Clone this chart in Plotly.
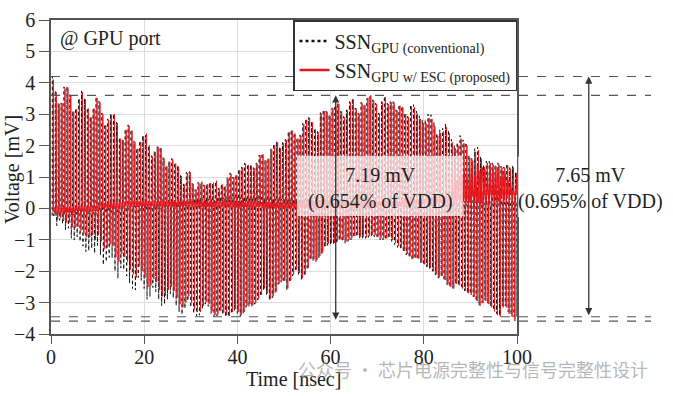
import numpy as np
import plotly.graph_objects as go

# ---------------- data ----------------
PERIOD = 0.625   # ns between successive spikes
T0 = 0.3
ESC_SHIFT = 0.2  # the proposed trace spikes slightly later than the conventional one

conv_up = [
    4.20, 3.75, 3.36, 3.36, 3.87, 3.88, 3.62, 3.10, 3.19, 3.50,
    3.74, 3.50, 3.20, 2.92, 3.20, 3.55, 3.41, 3.04, 2.68, 2.85,
    3.01, 3.01, 2.75, 2.25, 2.19, 2.53, 2.66, 2.50, 2.15, 1.92,
    2.15, 2.32, 2.33, 2.00, 1.68, 1.83, 1.98, 1.95, 1.62, 1.36,
    1.50, 1.59, 1.45, 1.36, 1.05, 0.78, 1.15, 1.18, 0.80, 0.60,
    0.83, 0.80, 0.75, 0.78, 0.82, 0.80, 0.85, 0.65, 0.78, 0.72,
    0.98, 1.13, 1.00, 1.08, 1.25, 1.32, 1.44, 1.40, 1.39, 1.30,
    1.45, 1.70, 1.75, 1.55, 1.60, 1.90, 2.05, 2.13, 1.95, 2.10,
    2.20, 2.45, 2.50, 2.40, 2.25, 2.34, 2.71, 2.85, 2.90, 2.77,
    2.55, 2.45, 3.05, 3.14, 3.10, 2.98, 3.20, 3.28, 3.36, 3.10,
    2.93, 3.14, 3.40, 3.50, 3.20, 3.04, 3.38, 3.30, 3.50, 3.57,
    3.46, 3.35, 3.04, 3.40, 3.57, 3.35, 3.40, 3.40, 3.14, 3.30,
    3.25, 3.04, 2.93, 3.30, 3.30, 3.10, 2.95, 2.82, 2.82, 3.00,
    2.98, 2.75, 2.40, 2.50, 2.55, 2.70, 2.50, 2.20, 2.00, 2.10,
    2.32, 2.18, 2.10, 1.70, 1.60, 1.90, 1.95, 1.65, 1.38, 1.50,
    1.50, 1.45, 1.38, 1.45, 1.35, 1.32, 1.42, 1.30, 1.35, 1.15,
]

conv_low = [
    -0.20, -0.55, -0.38, -0.50, -0.68, -0.63, -0.95, -1.00, -0.90, -1.05,
    -1.20, -1.38, -1.35, -1.27, -1.43, -1.18, -1.48, -1.80, -1.70, -1.56,
    -1.58, -2.00, -2.23, -1.90, -1.95, -2.15, -2.38, -2.55, -2.60, -2.20,
    -2.30, -2.55, -2.90, -2.81, -2.52, -2.65, -2.90, -3.10, -3.05, -2.90,
    -2.72, -2.85, -3.10, -3.30, -3.38, -3.19, -2.95, -3.15, -3.35, -3.42,
    -3.40, -3.20, -3.05, -3.12, -3.35, -3.45, -3.42, -3.30, -3.38, -3.45,
    -3.45, -3.35, -3.25, -3.35, -3.45, -3.35, -3.15, -3.13, -3.13, -3.05,
    -2.92, -2.80, -2.60, -2.75, -2.92, -2.85, -2.70, -2.42, -2.35, -2.35,
    -2.60, -2.35, -2.15, -2.00, -2.10, -2.28, -2.15, -1.95, -1.64, -1.68,
    -1.70, -1.58, -1.45, -1.24, -1.18, -1.16, -1.15, -1.12, -1.02, -1.05,
    -1.11, -1.05, -1.00, -0.92, -0.90, -0.95, -0.95, -0.95, -0.92, -0.90,
    -0.90, -0.95, -1.00, -1.00, -1.00, -0.95, -1.05, -1.15, -1.24, -1.30,
    -1.38, -1.48, -1.56, -1.64, -1.60, -1.62, -1.74, -1.80, -1.86, -1.92,
    -2.00, -2.12, -2.23, -2.17, -2.30, -2.44, -2.50, -2.55, -2.40, -2.45,
    -2.55, -2.62, -2.70, -2.72, -2.81, -2.95, -3.08, -3.00, -2.92, -3.03,
    -3.12, -3.24, -3.35, -3.40, -3.10, -3.10, -3.29, -3.38, -3.45, -3.45,
]

esc_up = [
    4.10, 3.70, 3.33, 3.35, 3.82, 3.85, 3.60, 3.08, 3.15, 3.48,
    3.70, 3.48, 3.18, 2.90, 3.18, 3.52, 3.38, 3.00, 2.65, 2.82,
    2.98, 3.00, 2.72, 2.22, 2.17, 2.50, 2.63, 2.48, 2.12, 1.90,
    2.12, 2.30, 2.38, 2.00, 1.66, 1.80, 1.95, 1.92, 1.60, 1.34,
    1.48, 1.56, 1.43, 1.33, 1.03, 0.76, 1.12, 1.15, 0.78, 0.60,
    0.80, 0.85, 0.73, 0.76, 0.80, 0.82, 0.88, 0.63, 0.76, 0.70,
    0.95, 1.10, 0.98, 1.05, 1.22, 1.30, 1.42, 1.38, 1.36, 1.28,
    1.42, 1.68, 1.72, 1.52, 1.58, 1.88, 2.02, 2.10, 1.92, 2.08,
    2.18, 2.42, 2.48, 2.38, 2.22, 2.32, 2.68, 2.82, 2.88, 2.74,
    2.52, 2.42, 3.02, 3.10, 3.08, 2.95, 3.18, 3.25, 3.33, 3.08,
    2.90, 3.12, 3.38, 3.47, 3.18, 3.02, 3.35, 3.28, 3.52, 3.60,
    3.44, 3.32, 3.02, 3.38, 3.55, 3.32, 3.38, 3.37, 3.12, 3.27,
    3.22, 3.00, 2.90, 3.25, 3.22, 3.02, 2.85, 2.72, 2.70, 2.88,
    2.85, 2.62, 2.30, 2.40, 2.45, 2.58, 2.40, 2.10, 1.92, 2.00,
    2.22, 2.08, 2.00, 1.62, 1.52, 1.80, 1.86, 1.58, 1.32, 1.45,
    1.44, 1.40, 1.33, 1.40, 1.30, 1.28, 1.38, 1.26, 1.30, 1.12,
]

esc_low = [
    -0.15, -0.35, -0.30, -0.40, -0.45, -0.45, -0.60, -0.62, -0.58, -0.70,
    -0.80, -0.90, -0.92, -0.85, -1.00, -0.85, -1.05, -1.30, -1.25, -1.15,
    -1.20, -1.55, -1.70, -1.45, -1.55, -1.70, -1.95, -2.10, -2.20, -1.85,
    -2.00, -2.20, -2.50, -2.45, -2.25, -2.35, -2.60, -2.80, -2.78, -2.60,
    -2.50, -2.62, -2.85, -3.05, -3.15, -3.00, -2.80, -3.00, -3.22, -3.30,
    -3.30, -3.10, -2.98, -3.05, -3.28, -3.40, -3.38, -3.25, -3.32, -3.40,
    -3.42, -3.30, -3.20, -3.30, -3.40, -3.30, -3.10, -3.05, -3.08, -3.00,
    -2.88, -2.75, -2.55, -2.70, -2.88, -2.80, -2.65, -2.40, -2.30, -2.30,
    -2.55, -2.30, -2.10, -1.95, -2.05, -2.22, -2.10, -1.90, -1.60, -1.62,
    -1.65, -1.52, -1.40, -1.20, -1.12, -1.10, -1.10, -1.05, -0.98, -1.00,
    -1.05, -1.00, -0.95, -0.88, -0.85, -0.90, -0.90, -0.92, -0.88, -0.85,
    -0.85, -0.90, -0.95, -0.95, -0.95, -0.90, -1.00, -1.10, -1.20, -1.25,
    -1.35, -1.45, -1.52, -1.60, -1.58, -1.60, -1.72, -1.78, -1.85, -1.90,
    -2.00, -2.10, -2.20, -2.15, -2.28, -2.42, -2.50, -2.55, -2.40, -2.45,
    -2.55, -2.62, -2.70, -2.75, -2.82, -2.95, -3.10, -3.02, -2.95, -3.05,
    -3.15, -3.28, -3.40, -3.45, -3.15, -3.15, -3.35, -3.45, -3.59, -3.50,
]

# baseline level between spikes, one value per 5 ns block
BASE_BLOCK = 5.0
conv_base = [-0.15, -0.12, -0.05, 0.00, 0.05, 0.12, 0.22, 0.27, 0.27, 0.22,
             0.20, 0.18, 0.18, 0.15, 0.15, 0.12, 0.12, 0.15, 0.15, 0.15]
esc_base = [-0.05, 0.00, 0.10, 0.15, 0.15, 0.15, 0.12, 0.12, 0.12, 0.10,
            0.10, 0.10, 0.10, 0.10, 0.15, 0.20, 0.25, 0.35, 0.50, 0.50]

# high-frequency ringing of the proposed trace near the end of the window
RING_T0 = 86.0
RING_PERIOD = 0.55
esc_ring_hi = [0.70, 0.80, 0.90, 1.00, 1.10, 1.20, 1.00, 1.25, 1.30, 1.10, 1.35, 1.20,
               1.30, 1.25, 1.10, 1.30, 1.20, 1.15, 1.30, 1.00, 1.20, 1.10, 0.90, 0.80]
esc_ring_lo = [0.30, 0.25, 0.30, 0.20, 0.25, 0.15, 0.30, 0.20, 0.10, 0.25, 0.20, 0.15,
               0.25, 0.20, 0.15, 0.30, 0.20, 0.25, 0.20, 0.30, 0.25, 0.30, 0.35, 0.40]

# reference levels (max / min of each trace)
conv_max, conv_min = 4.20, -3.45
esc_max, esc_min = 3.60, -3.59

x_ticks = [0, 20, 40, 60, 80, 100]
y_ticks = [-4, -3, -2, -1, 0, 1, 2, 3, 4, 5, 6]

label_conv = "SSN<sub>GPU (conventional)</sub>"
label_esc = "SSN<sub>GPU w/ ESC (proposed)</sub>"
text_esc = "7.19 mV<br>(0.654% of VDD)"
text_conv = "7.65 mV<br>(0.695% of VDD)"
port_text = "@ GPU port"
watermark = "公众号 · 芯片电源完整性与信号完整性设计"


def spikes(up, low, base, t0, period, w=0.06, d=0.08):
    """Narrow up-spike and down-spike per cycle, returning to a wobbling baseline."""
    xs, ys = [], []
    for k, (u, l) in enumerate(zip(up, low)):
        t = t0 + k * period
        b = base[min(int(t // BASE_BLOCK), len(base) - 1)]
        h = period / 2
        xs += [t - w, t, t + w, t + h - w, t + h, t + h + w]
        ys += [b - d, u, b + d, b - d, l, b + d]
    return xs, ys


def zigzag(hi, lo, t0, period):
    xs, ys = [], []
    for k, (a, b) in enumerate(zip(hi, lo)):
        t = t0 + k * period
        xs += [t, t + period / 2]
        ys += [a, b]
    return xs, ys


cx, cy = spikes(conv_up, conv_low, conv_base, T0, PERIOD)
ex, ey = spikes(esc_up, esc_low, esc_base, T0 + ESC_SHIFT, PERIOD)
rx, ry = zigzag(esc_ring_hi, esc_ring_lo, RING_T0, RING_PERIOD)

SERIF = "Liberation Serif, Times New Roman, serif"
RED = "#e8141c"
BLACK = "#111111"
DARK = "#333333"
TXT = "#222222"

fig = go.Figure()
# conventional (black dotted) underneath, proposed (red) on top
fig.add_trace(go.Scatter(x=cx, y=cy, mode="lines", showlegend=False, hoverinfo="skip",
                         line=dict(color=BLACK, width=1, dash="dot")))
fig.add_trace(go.Scatter(x=ex, y=ey, mode="lines", showlegend=False, hoverinfo="skip",
                         line=dict(color=RED, width=1)))
fig.add_trace(go.Scatter(x=rx, y=ry, mode="lines", showlegend=False, hoverinfo="skip",
                         line=dict(color=RED, width=1)))
# legend entries (bolder samples, as in the reference legend)
fig.add_trace(go.Scatter(x=[None], y=[None], mode="lines", name=label_conv,
                         line=dict(color=BLACK, width=2.5, dash="dot")))
fig.add_trace(go.Scatter(x=[None], y=[None], mode="lines", name=label_esc,
                         line=dict(color=RED, width=2.5)))

# dashed reference levels
X_END = 1.2876
for lvl in [conv_max, esc_max, conv_min, esc_min]:
    fig.add_shape(type="line", xref="paper", yref="y", x0=0, x1=X_END, y0=lvl, y1=lvl,
                  line=dict(color="#555555", width=1.2, dash="dash"))

# translucent boxes behind the labels
fig.add_shape(type="rect", xref="x", yref="y", x0=52.8, x1=88.4, y0=-0.24, y1=1.68,
              fillcolor="rgba(255,255,255,0.72)", line=dict(width=0), layer="above")
fig.add_shape(type="rect", xref="paper", yref="y", x0=1.002, x1=1.322, y0=-0.27, y1=1.65,
              fillcolor="rgba(255,255,255,0.72)", line=dict(width=0), layer="above")

# double-headed arrows
fig.add_annotation(x=61.1, y=esc_max, ax=61.1, ay=esc_min, xref="x", yref="y",
                   axref="x", ayref="y", text="", showarrow=True, arrowhead=2,
                   startarrowhead=2, arrowside="end+start", arrowsize=1.1,
                   arrowwidth=1.3, arrowcolor=DARK)
fig.add_annotation(x=1.154, y=conv_max, ax=0, ay=conv_min, xref="paper", yref="y",
                   axref="pixel", ayref="y", text="", showarrow=True, arrowhead=2,
                   startarrowhead=2, arrowside="end+start", arrowsize=1.1,
                   arrowwidth=1.3, arrowcolor=DARK)

fig.add_annotation(x=70.6, y=0.62, xref="x", yref="y", text=text_esc, showarrow=False,
                   xanchor="center", yanchor="middle",
                   font=dict(family=SERIF, size=20, color=TXT), align="center")
fig.add_annotation(x=1.157, y=0.62, xref="paper", yref="y", text=text_conv, showarrow=False,
                   xanchor="center", yanchor="middle",
                   font=dict(family=SERIF, size=20, color=TXT), align="center")
fig.add_annotation(x=1.5, y=5.42, xref="x", yref="y", text=port_text, showarrow=False,
                   xanchor="left", yanchor="middle",
                   font=dict(family=SERIF, size=20, color=TXT))

# axis titles
fig.add_annotation(x=(293 - 51) / 466, y=-(379 - 334) / 314, xref="paper", yref="paper",
                   text="Time [nsec]", showarrow=False, xanchor="center", yanchor="middle",
                   font=dict(family=SERIF, size=20, color=TXT))
fig.add_annotation(x=(12 - 51) / 466, y=(334 - 170) / 314, xref="paper", yref="paper",
                   text="Voltage [mV]", showarrow=False, textangle=-90,
                   xanchor="center", yanchor="middle",
                   font=dict(family=SERIF, size=20, color=TXT))

# watermark
fig.add_annotation(x=(296 - 51) / 466, y=-(369 - 334) / 314, xref="paper", yref="paper",
                   text=watermark, showarrow=False, xanchor="left", yanchor="middle",
                   font=dict(family="Noto Sans CJK SC", size=18, color="rgba(150,150,150,0.7)"))

axis_common = dict(showline=True, mirror=True, linecolor="#555555", linewidth=1.5,
                   showgrid=True, gridcolor="#dddddd", gridwidth=1, zeroline=False,
                   ticks="outside", tickcolor="#555555", tickwidth=1.2,
                   tickfont=dict(family=SERIF, size=20, color=TXT))

fig.update_xaxes(range=[0, 100], tickvals=x_ticks, ticklen=8, ticklabelstandoff=-4,
                 **axis_common)
fig.update_yaxes(range=[-4, 6], tickvals=y_ticks, ticklen=10, **axis_common)

fig.update_layout(
    width=673, height=396,
    margin=dict(l=51, r=156, t=20, b=62, autoexpand=False),
    paper_bgcolor="white", plot_bgcolor="white",
    showlegend=True,
    legend=dict(x=1, y=1, xanchor="right", yanchor="top", bgcolor="white",
                bordercolor="#333333", borderwidth=1.5, traceorder="normal",
                font=dict(family=SERIF, size=20, color=TXT),
                itemwidth=30, tracegroupgap=0),
)

fig.write_html("out.html", config={"displayModeBar": False},
               post_script="document.body.style.margin='0px';")
